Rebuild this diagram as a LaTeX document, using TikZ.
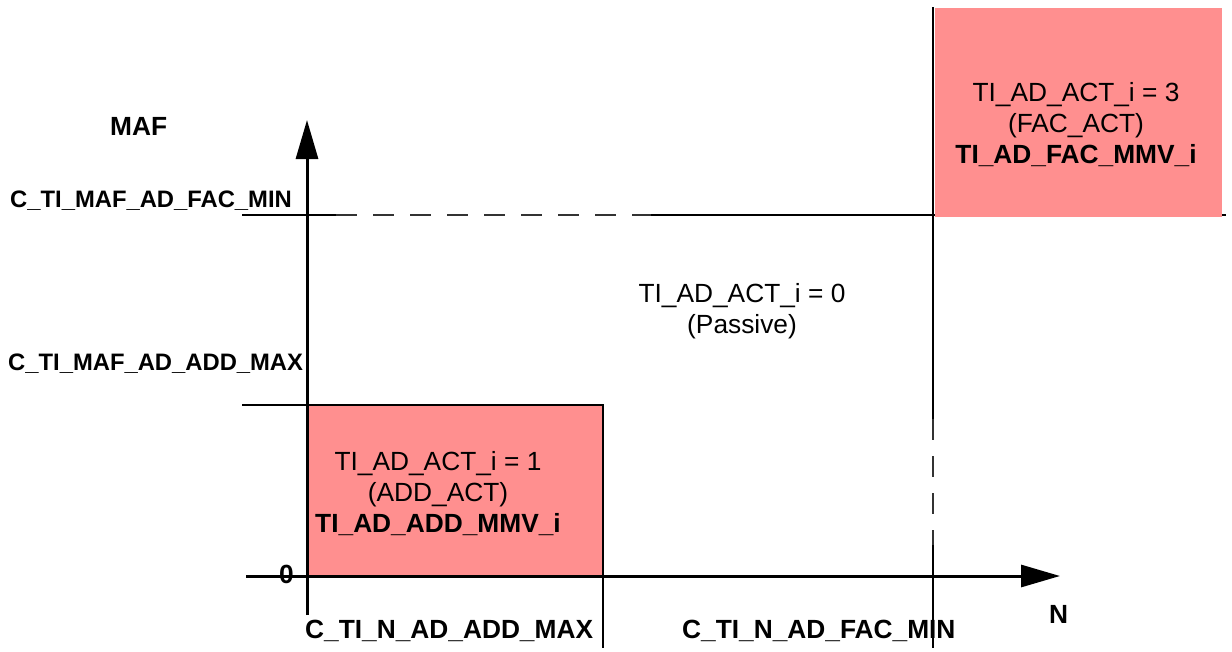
\documentclass[tikz,border=0pt]{standalone}
\usepackage{fontspec}
\setmainfont{Liberation Sans}
\usetikzlibrary{arrows.meta}
\definecolor{zonepink}{RGB}{255,143,143}
\begin{document}
\begin{tikzpicture}[x=1pt,y=-1pt,
  axisline/.style={line width=3pt,-{Triangle[length=39pt,width=22pt]}},
  guide/.style={line width=2.8pt},
  dsh/.style={line width=1.8pt,black!80,dash pattern=on 21pt off 16pt},
  zone/.style={fill=zonepink},
  sidelbl/.style={font=\bfseries\fontsize{23.8}{28}\selectfont,inner sep=0pt,anchor=base west},
  botlbl/.style={font=\bfseries\fontsize{26.3}{31}\selectfont,inner sep=0pt,anchor=base west},
  zonetxt/.style={font=\fontsize{26.3}{31}\selectfont,align=center,inner sep=0pt}]
\useasboundingbox (0,0) rectangle (1232,651);
% coordinates
\coordinate (O) at (307,576);
\coordinate (ybot) at (307,615);
\coordinate (ytip) at (307,120);
\coordinate (xleft) at (246,576);
\coordinate (xtip) at (1060,576);
\coordinate (facL) at (242,215);
\coordinate (facS) at (336,215);
\coordinate (facD) at (651,215);
\coordinate (facR) at (1226,215);
\coordinate (addL) at (242,405);
\coordinate (addS) at (336,405);
\coordinate (nadd) at (603,576);
\coordinate (naddB) at (603,648);
\coordinate (nfacT) at (933,7);
\coordinate (nfacD1) at (933,419);
\coordinate (nfacD2) at (933,545);
\coordinate (nfacB) at (933,648);
% horizontal FAC level
\draw[guide] (facL) -- (facS);
\draw[dsh] (facS) -- (facD);
\draw[guide] (facD) -- (facR);
% FAC zone
\fill[zone] (935,8) rectangle (1222,217);
% ADD zone
\filldraw[zone,draw=black,line width=2.2pt] (307,405) rectangle (603,576);
\draw[guide] (addL) -- (addS);
% vertical limits
\draw[guide] (nadd) -- (naddB);
\draw[guide] (nfacT) -- (nfacD1);
\draw[dsh] (nfacD1) -- (nfacD2);
\draw[guide] (nfacD2) -- (nfacB);
% axes
\draw[axisline] (ybot) -- (ytip);
\draw[axisline] (xleft) -- (xtip);
% labels
\node[botlbl] (maf) at (110,135) {MAF};
\node[sidelbl] (facmin) at (10,207) {C\_TI\_MAF\_AD\_FAC\_MIN};
\node[sidelbl] (addmax) at (8,370) {C\_TI\_MAF\_AD\_ADD\_MAX};
\node[botlbl] (zero) at (279,583) {0};
\node[botlbl] (naddmax) at (305,638) {C\_TI\_N\_AD\_ADD\_MAX};
\node[botlbl] (nfacmin) at (682,638) {C\_TI\_N\_AD\_FAC\_MIN};
\node[botlbl] (nlbl) at (1049,623) {N};
\node[zonetxt] (passive) at (742,311) {TI\_AD\_ACT\_i = 0\\(Passive)};
\node[zonetxt] (facact) at (1076,125) {TI\_AD\_ACT\_i = 3\\(FAC\_ACT)\\\textbf{TI\_AD\_FAC\_MMV\_i}};
\node[zonetxt] (addact) at (438,494) {TI\_AD\_ACT\_i = 1\\(ADD\_ACT)\\\textbf{TI\_AD\_ADD\_MMV\_i}};
\end{tikzpicture}
\end{document}
